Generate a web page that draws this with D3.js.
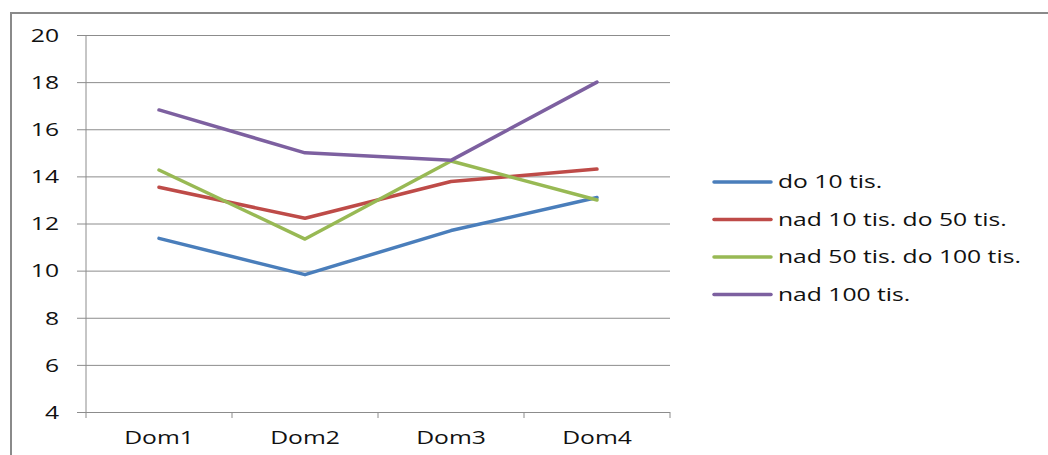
<!DOCTYPE html>
<html>
<head>
<meta charset="utf-8">
<script src="https://cdn.jsdelivr.net/npm/d3@7"></script>
<style>
    body { margin: 0; background: #fff; }
    text { font-family: "Open Sans", sans-serif; fill: #111; }
</style>
</head>
<body>
<div id="chart-container"></div>
<script>
// chart data
var categories = ["Dom1", "Dom2", "Dom3", "Dom4"];
var seriesNames = ["do 10 tis.", "nad 10 tis. do 50 tis.", "nad 50 tis. do 100 tis.", "nad 100 tis."];
var doDeset = [11.37, 9.83, 11.7, 13.1];
var nadDesetDoPadesat = [13.54, 12.22, 13.78, 14.31];
var nadPadesatDoSto = [14.27, 11.34, 14.65, 13.0];
var nadSto = [16.82, 15.0, 14.68, 18.0];
var yTicks = [4, 6, 8, 10, 12, 14, 16, 18, 20];

var seriesValues = [doDeset, nadDesetDoPadesat, nadPadesatDoSto, nadSto];
var colors = ["#4a7ebb", "#be4b48", "#98b954", "#7d60a0"];

// text in the reference is stretched wide
var stretch = 1.37;

var W = 1048, H = 455;
var margin = { top: 35, left: 86, right: 378, bottom: 43 };
var width = W - margin.left - margin.right;
var height = H - margin.top - margin.bottom;

var svg = d3.select("#chart-container")
    .append("svg")
    .attr("width", W)
    .attr("height", H);

// outer chart border (cut off by the picture edges)
svg.append("rect")
    .attr("x", 11)
    .attr("y", 13)
    .attr("width", 1200)
    .attr("height", 600)
    .attr("fill", "none")
    .attr("stroke", "#8a8a8a")
    .attr("stroke-width", 2);

var x = d3.scaleBand()
    .domain(categories)
    .range([margin.left, margin.left + width])
    .paddingInner(0)
    .paddingOuter(0);

var y = d3.scaleLinear()
    .domain([4, 20])
    .range([margin.top + height, margin.top]);

// gridlines + y labels
var yAxis = d3.axisLeft(y)
    .tickValues(yTicks)
    .tickSize(-(width + 9))
    .tickPadding(18)
    .tickFormat(d3.format("d"));

var gy = svg.append("g")
    .attr("transform", `translate(${margin.left - 9},0)`)
    .call(yAxis);
gy.select(".domain").remove();
gy.selectAll(".tick line").attr("stroke", "#8c8c8c").attr("stroke-width", 1);
gy.selectAll(".tick text")
    .style("font-size", "18px")
    .attr("dy", "0.35em");

// vertical axis line
svg.append("line")
    .attr("x1", margin.left).attr("x2", margin.left)
    .attr("y1", y(20)).attr("y2", y(4))
    .attr("stroke", "#8c8c8c");

// x axis: labels centered, ticks on band edges
var xAxis = d3.axisBottom(x)
    .tickSize(0)
    .tickPadding(19);
var gx = svg.append("g")
    .attr("transform", `translate(0,${y(4)})`)
    .call(xAxis);
gx.select(".domain").remove();
gx.selectAll(".tick text").style("font-size", "18px");

var edges = categories.map(d => x(d)).concat([x.range()[1]]);
svg.selectAll(".xedge")
    .data(edges)
    .enter()
    .append("line")
    .attr("class", "xedge")
    .attr("x1", d => d).attr("x2", d => d)
    .attr("y1", y(4)).attr("y2", y(4) + 6)
    .attr("stroke", "#8c8c8c");

// series lines
var line = d3.line()
    .x((d, i) => x(categories[i]) + x.bandwidth() / 2)
    .y(d => y(d));

svg.selectAll(".series")
    .data(seriesValues)
    .enter()
    .append("path")
    .attr("class", "series")
    .attr("d", d => line(d))
    .attr("fill", "none")
    .attr("stroke", (d, i) => colors[i])
    .attr("stroke-width", 3.5)
    .attr("stroke-linejoin", "round")
    .attr("stroke-linecap", "round");

// legend
var legend = svg.append("g");
seriesNames.forEach(function(name, i) {
    var ly = 182 + i * 37.5;
    legend.append("line")
        .attr("x1", 714).attr("x2", 771)
        .attr("y1", ly).attr("y2", ly)
        .attr("stroke", colors[i])
        .attr("stroke-width", 3.5)
        .attr("stroke-linecap", "round");
    legend.append("text")
        .attr("class", "legend-text")
        .attr("x", 778)
        .attr("y", ly)
        .attr("dy", "0.35em")
        .style("font-size", "18px")
        .text(name);
});

// widen all text to match the stretched look of the reference
svg.selectAll("text").each(function() {
    var len = this.getComputedTextLength();
    d3.select(this)
        .attr("textLength", len * stretch)
        .attr("lengthAdjust", "spacingAndGlyphs");
});
</script>
</body>
</html>
